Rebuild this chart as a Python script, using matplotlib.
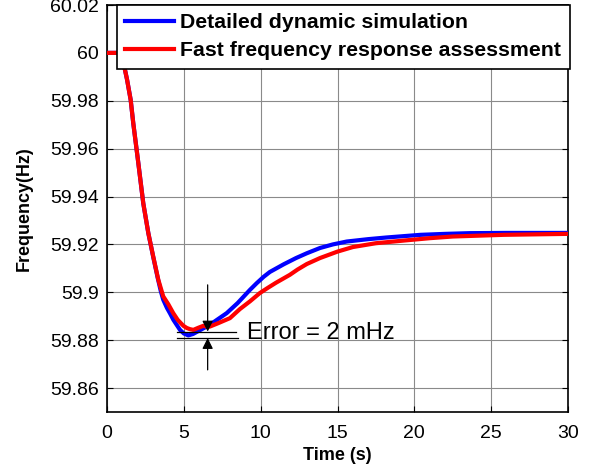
import matplotlib
matplotlib.use("Agg")
import matplotlib.pyplot as plt

# Detailed dynamic simulation (blue)
t_det = [0, 0.9, 1.0, 1.1, 1.3, 1.54, 1.71, 2.04, 2.36, 2.69, 3.0, 3.3, 3.5, 3.66, 3.9,
         4.1, 4.32, 4.75, 5.0, 5.29, 5.6, 6.0, 6.49, 7.0, 7.79, 8.5, 9.3, 9.74, 10.2,
         10.6, 11.5, 12.3, 13.0, 13.86, 14.7, 15.6, 17.0, 18.2, 20.4, 22.0, 23.6, 26.0,
         30.0]
f_det = [60.0, 60.0, 59.998, 59.995, 59.989, 59.9804, 59.9706, 59.9539, 59.9372, 59.9247,
         59.915, 59.906, 59.9005, 59.8969, 59.8935, 59.8912, 59.8885, 59.8843, 59.8828,
         59.8820, 59.8826, 59.8840, 59.8857, 59.8878, 59.8913, 59.8955, 59.9010, 59.9038,
         59.9065, 59.9085, 59.9117, 59.9143, 59.9163, 59.9185, 59.9200, 59.9212, 59.9222,
         59.9229, 59.9240, 59.9244, 59.9247, 59.9248, 59.9248]

# Fast frequency response assessment (red)
t_fast = [0, 0.9, 1.0, 1.1, 1.3, 1.54, 1.71, 2.04, 2.36, 2.69, 3.01, 3.34, 3.66, 3.99,
          4.31, 4.6, 4.97, 5.19, 5.4, 5.62, 5.95, 6.27, 6.5, 6.7, 7.2, 8.0, 8.65, 9.3,
          9.95, 10.5, 11.0, 11.9, 12.4, 13.0, 13.86, 15.0, 16.0, 17.5, 19.3, 21.0, 22.5,
          25.8, 30.0]
f_fast = [60.0, 60.0, 59.998, 59.995, 59.989, 59.9804, 59.9706, 59.9539, 59.9372, 59.9247,
          59.9149, 59.9052, 59.8983, 59.8950, 59.8913, 59.8885, 59.8860, 59.8851, 59.8846,
          59.8843, 59.8852, 59.8860, 59.8856, 59.8857, 59.8870, 59.8892, 59.8930, 59.8962,
          59.8997, 59.9020, 59.9040, 59.9073, 59.9095, 59.9118, 59.9143, 59.9170, 59.9189,
          59.9205, 59.9216, 59.9226, 59.9233, 59.9240, 59.9244]

series_labels = ["Detailed dynamic simulation", "Fast frequency response assessment"]
x_ticks = [0, 5, 10, 15, 20, 25, 30]
y_ticks = [59.86, 59.88, 59.90, 59.92, 59.94, 59.96, 59.98, 60.00, 60.02]
y_tick_labels = ["59.86", "59.88", "59.9", "59.92", "59.94", "59.96", "59.98", "60", "60.02"]

plt.rcParams['font.family'] = ['Liberation Sans', 'DejaVu Sans']

fig = plt.figure(figsize=(5.9, 4.68), dpi=100)
ax = fig.add_axes([107/590, 1-412/468, (568-107)/590, (412-5)/468])

ax.plot(t_det, f_det, color='#0000ff', lw=3.0, label=series_labels[0], zorder=3)
ax.plot(t_fast, f_fast, color='#ff0000', lw=3.0, label=series_labels[1], zorder=4)

ax.set_xlim(0, 30)
ax.set_ylim(59.85, 60.02)
ax.set_xticks(x_ticks)
ax.set_xticklabels([str(v) for v in x_ticks])
ax.set_yticks(y_ticks)
ax.set_yticklabels(y_tick_labels)
ax.tick_params(direction='in', top=True, right=True, length=4, width=0.8,
               labelsize=14)
ax.tick_params(axis='x', pad=9)
ax.tick_params(axis='y', pad=6)
ax.grid(True, color='#8a8a8a', lw=0.8)
ax.set_axisbelow(True)
for s in ax.spines.values():
    s.set_linewidth(1.2)

ax.set_xlabel("Time (s)", fontsize=13, fontweight='bold', labelpad=4)
ax.set_ylabel("Frequency(Hz)", fontsize=13, fontweight='bold', labelpad=12)

leg = ax.legend(loc='upper right', bbox_to_anchor=(1.004, 1.0), borderaxespad=0,
                fancybox=False, edgecolor='black', framealpha=1,
                prop={'weight': 'bold', 'size': 15.3}, handlelength=2.3,
                handletextpad=0.3, borderpad=0.4, labelspacing=0.42,
                handleheight=0.7)
leg.get_frame().set_linewidth(1.2)

# Error annotation
xa = 6.55
y_up, y_lo = 59.8836, 59.8809
ax.plot([4.55, 8.4], [y_up, y_up], color='black', lw=0.9, zorder=5)
ax.plot([4.55, 8.5], [y_lo, y_lo], color='black', lw=0.9, zorder=5)
ax.annotate("", xy=(xa, y_up), xytext=(xa, 59.9031),
            arrowprops=dict(arrowstyle='-|>', color='black', lw=0.9, mutation_scale=16,
                            shrinkA=0, shrinkB=0), zorder=6)
ax.annotate("", xy=(xa, y_lo), xytext=(xa, 59.8676),
            arrowprops=dict(arrowstyle='-|>', color='black', lw=0.9, mutation_scale=16,
                            shrinkA=0, shrinkB=0), zorder=6)
ax.text(9.1, 59.8831, "Error = 2 mHz", fontsize=17, va='center', ha='left', zorder=6)

fig.savefig("out.png", dpi=100)
